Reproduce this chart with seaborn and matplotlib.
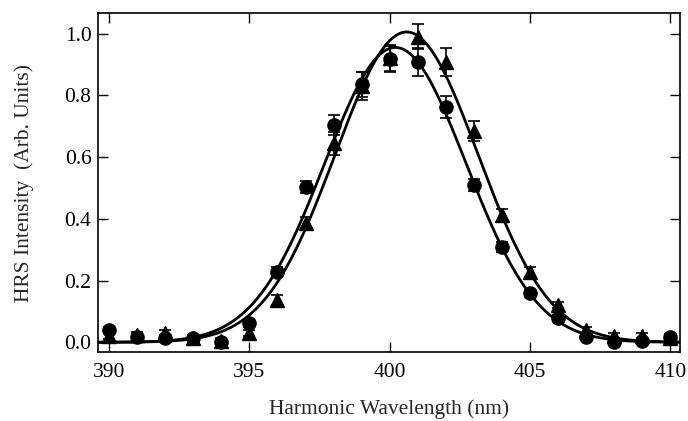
import numpy as np
import pandas as pd
import matplotlib
matplotlib.use("Agg")
import matplotlib.pyplot as plt
import seaborn as sns

# data
wavelength = [390, 391, 392, 393, 394, 395, 396, 397, 398, 399, 400,
              401, 402, 403, 404, 405, 406, 407, 408, 409, 410]
circle_vals = [0.040, 0.018, 0.013, 0.015, 0.002, 0.061, 0.228, 0.502, 0.703, 0.836, 0.919,
               0.908, 0.762, 0.509, 0.309, 0.158, 0.078, 0.018, 0.002, 0.005, 0.018]
circle_err = [0.01, 0.01, 0.01, 0.01, 0.01, 0.01, 0.015, 0.02, 0.032, 0.04, 0.045,
              0.045, 0.036, 0.02, 0.015, 0.01, 0.01, 0.01, 0.01, 0.01, 0.01]
triangle_vals = [0.020, 0.022, 0.029, 0.015, 0.004, 0.030, 0.137, 0.385, 0.644, 0.830, 0.920,
                 0.990, 0.908, 0.684, 0.412, 0.228, 0.121, 0.040, 0.020, 0.020, 0.015]
triangle_err = [0.01, 0.01, 0.01, 0.01, 0.01, 0.01, 0.015, 0.02, 0.036, 0.045, 0.04,
                0.04, 0.045, 0.033, 0.02, 0.015, 0.01, 0.01, 0.01, 0.01, 0.01]

# gaussian fit parameters (amplitude, centre, width)
circle_fit = (0.955, 400.2, 2.52)
triangle_fit = (1.005, 400.6, 2.54)

x_fit = np.linspace(389.6, 410.4, 400)


def gauss(x, a, x0, s):
    return a * np.exp(-(x - x0) ** 2 / (2 * s ** 2))


fits = pd.concat([
    pd.DataFrame({"x": x_fit, "y": gauss(x_fit, *circle_fit), "set": "circle"}),
    pd.DataFrame({"x": x_fit, "y": gauss(x_fit, *triangle_fit), "set": "triangle"}),
])

sns.set_style("ticks")
plt.rcParams["font.family"] = ["Liberation Serif", "DejaVu Serif"]

fig = plt.figure(figsize=(6.88, 4.21), dpi=100)
ax = fig.add_axes([0.143, 0.165, 0.845, 0.803])

sns.lineplot(data=fits, x="x", y="y", units="set", estimator=None,
             color="black", lw=2.0, ax=ax, legend=False)

ax.errorbar(wavelength, circle_vals, yerr=circle_err, fmt="o", color="black",
            ms=9.5, elinewidth=1.2, capsize=4, capthick=1.2, zorder=3)
ax.errorbar(wavelength, triangle_vals, yerr=triangle_err, fmt="^", color="black",
            ms=10, elinewidth=1.2, capsize=4, capthick=1.2, zorder=4)

ax.set_xlim(389.62, 410.33)
ax.set_ylim(-0.03, 1.065)
ax.set_xticks([390, 395, 400, 405, 410])
ax.set_yticks([0.0, 0.2, 0.4, 0.6, 0.8, 1.0])
ax.set_yticklabels(["0.0", "0.2", "0.4", "0.6", "0.8", "1.0"])

ax.tick_params(direction="in", length=7.5, width=1.0, top=True, right=True,
               labelsize=15.5, colors="black")
ax.tick_params(axis="x", pad=8)
ax.tick_params(axis="y", pad=5)
for sp in ax.spines.values():
    sp.set_visible(True)
    sp.set_linewidth(1.2)
    sp.set_color("black")

ax.set_xlabel("Harmonic Wavelength (nm)", fontsize=15.5, labelpad=13)
ax.set_ylabel("HRS Intensity  (Arb. Units)", fontsize=15.5, labelpad=22)

fig.savefig("out.png", dpi=100)
